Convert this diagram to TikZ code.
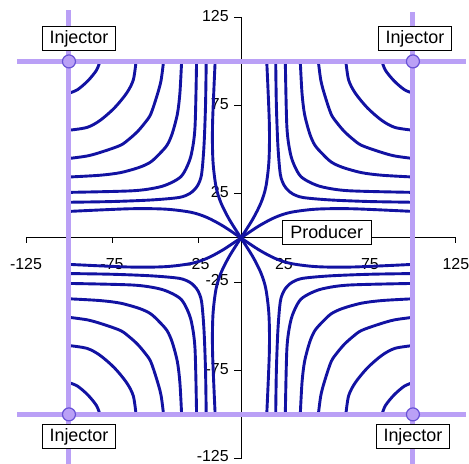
\documentclass[tikz,border=0pt]{standalone}
\usepackage{fontspec}
\setmainfont{Liberation Sans}
\usetikzlibrary{positioning}
\definecolor{frontblue}{RGB}{18,18,162}
\definecolor{wellline}{RGB}{186,160,246}
\definecolor{welledge}{RGB}{104,82,214}
\tikzset{
  front/.style={draw=frontblue, line width=2.9bp, line join=round, line cap=round},
  axisline/.style={draw=black, line width=0.9bp},
  wellrow/.style={draw=wellline, line width=5bp},
  wellpt/.style={circle, fill=wellline, draw=welledge, line width=1.2bp, minimum size=13bp, inner sep=0pt},
  tag/.style={draw=black, fill=white, line width=0.9bp, font=\fontsize{18}{20}\selectfont,
    inner xsep=7bp, inner ysep=2.5bp, minimum height=24bp},
  ticklbl/.style={font=\fontsize{16}{18}\selectfont, inner sep=0pt},
}
% one quadrant of fronts, mirrored into the other three
\newcommand{\FrontQuad}{%
  \draw[front] plot[smooth] coordinates {(82,100) (84,95) (89,89) (95,84) (100,82)};
  \draw[front] plot[smooth] coordinates {(61,100) (62.6,89.5) (66.5,82) (73.6,73.6) (82,66.5) (89.5,62.6) (100,61)};
  \draw[front] plot[smooth] coordinates {(45,100) (46.5,89) (49,80) (52.5,70) (56,65) (60.2,60.2) (65,56) (70,52.5) (80,49) (89,46.5) (100,45)};
  \draw[front] plot[smooth] coordinates {(34.5,100) (35.5,82) (37,70) (40,59) (43,52.5) (47.5,47.5) (52.5,43) (59,40) (70,37) (82,35.5) (100,34.5)};
  \draw[front] plot[smooth] coordinates {(25.8,100) (26.7,63) (28.7,48) (31.3,40.5) (34.8,34.8) (40.5,31.3) (48,28.7) (63,26.7) (100,25.8)};
  \draw[front] plot[smooth] coordinates {(20.2,100) (20.6,75) (21.5,52) (22.9,36) (25,30) (27.2,27.2) (30,25) (36,22.9) (52,21.5) (75,20.6) (100,20.2)};
  \draw[front] plot[smooth] coordinates {(15,100) (16.5,65) (16.3,44) (14.5,29) (11.6,19.8) (6.8,10.5) (0,0)};
  \draw[front] plot[smooth] coordinates {(0,0) (10.5,6.8) (19.8,11.6) (29,14.5) (44,16.3) (65,16.5) (100,15)};
}

\begin{document}
\begin{tikzpicture}[x=1.72bp, y=1.765bp]
  \useasboundingbox (-140.1,-128.0) rectangle (132.6,134.8);
  % axes
  \foreach \v/\yy [count=\i] in {-125/-123.4,-75/-74.1,-25/-24.1,25/25.9,75/75.9,125/125.9} {
    \node[ticklbl] (xl\i) at (\v,-14.7) {\v};
    \node[ticklbl, anchor=east] (yl\i) at (-7,\yy) {\v};
    \draw[axisline] (\v,0) -- (\v,-3);
    \draw[axisline] (0,\v) -- (-4,\v);
  }
  \draw[axisline] (-125,0) -- (125,0);
  \draw[axisline] (0,-125) -- (0,125);
  \coordinate (well) at (0,0);
  % fronts
  \foreach \sx/\sy in {1/1,-1/1,-1/-1,1/-1} {
    \begin{scope}[xscale=\sx, yscale=\sy]
      \FrontQuad
    \end{scope}
  }
  % injector rows
  \draw[wellrow] (-130,100) -- (131,100);
  \draw[wellrow] (-130,-100) -- (131,-100);
  \draw[wellrow] (-100,129) -- (-100,-130);
  \draw[wellrow] (100,128) -- (100,-130);
  \node[wellpt] (injNW) at (-100,100) {};
  \node[wellpt] (injNE) at (100,100) {};
  \node[wellpt] (injSW) at (-100,-100) {};
  \node[wellpt] (injSE) at (100,-100) {};
  \node[tag, above=3.5bp of injNW, xshift=10bp] (tagNW) {Injector};
  \node[tag, above=3.5bp of injNE, xshift=2bp] (tagNE) {Injector};
  \node[tag, below=2.5bp of injSW, xshift=10bp] (tagSW) {Injector};
  \node[tag, below=2.5bp of injSE] (tagSE) {Injector};
  \node[tag, anchor=west, inner xsep=8bp] (prod) at (23.8,3.1) {Producer};
\end{tikzpicture}
\end{document}
